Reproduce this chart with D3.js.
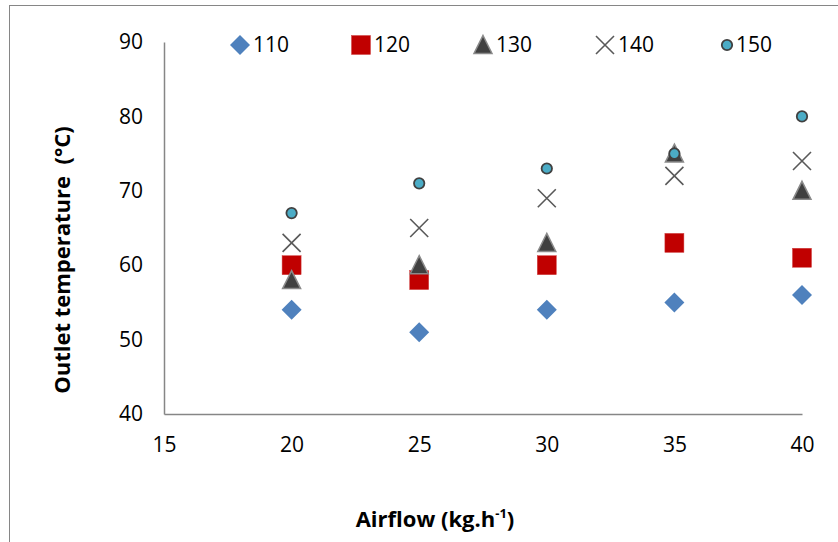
<!DOCTYPE html>
<html>
<head>
<meta charset="utf-8">
<script src="https://cdn.jsdelivr.net/npm/d3@7"></script>
<style>
  body { margin: 0; background: #fff; }
  svg { font-family: "Open Sans", "Noto Sans", sans-serif; }
</style>
</head>
<body>
<div id="chart"></div>
<script>
// airflow values (kg/h)
const airflow = [20, 25, 30, 35, 40];
// inlet temperature series
const seriesNames = ['110', '120', '130', '140', '150'];
const t110 = [54, 51, 54, 55, 56];
const t120 = [60, 58, 60, 63, 61];
const t130 = [58, 60, 63, 75, 70];
const t140 = [63, 65, 69, 72, 74];
const t150 = [67, 71, 73, 75, 80];
const xTicks = [15, 20, 25, 30, 35, 40];
const yTicks = [40, 50, 60, 70, 80, 90];

const series = [
  { name: seriesNames[0], values: t110, shape: 'diamond' },
  { name: seriesNames[1], values: t120, shape: 'square' },
  { name: seriesNames[2], values: t130, shape: 'triangle' },
  { name: seriesNames[3], values: t140, shape: 'cross' },
  { name: seriesNames[4], values: t150, shape: 'circle' },
];

const width = 838, height = 542;
const margin = { top: 42, right: 36, bottom: 128, left: 164 };

const svg = d3.select('#chart').append('svg')
  .attr('width', width)
  .attr('height', height);

// outer chart border
svg.append('rect')
  .attr('x', 9.5).attr('y', 5.5)
  .attr('width', 860).attr('height', 560)
  .attr('fill', 'none')
  .attr('stroke', '#868686')
  .attr('stroke-width', 1);

const xScale = d3.scaleLinear().domain([15, 40]).range([margin.left, width - margin.right]);
const yScale = d3.scaleLinear().domain([40, 90]).range([height - margin.bottom, margin.top]);

// axes (lines only, no tick marks)
svg.append('g')
  .attr('transform', `translate(0,${yScale(40)})`)
  .call(d3.axisBottom(xScale).tickValues(xTicks).tickSize(0).tickPadding(23))
  .call(g => g.select('.domain').attr('stroke', '#868686').attr('stroke-width', 1.5))
  .selectAll('text')
  .attr('font-size', '21px')
  .attr('fill', '#000')
  .style('font-family', '"Open Sans", sans-serif');

svg.append('g')
  .attr('transform', `translate(${xScale(15)},0)`)
  .call(d3.axisLeft(yScale).tickValues(yTicks).tickSize(0).tickPadding(21))
  .call(g => g.select('.domain').attr('stroke', '#868686').attr('stroke-width', 1.5))
  .selectAll('text')
  .attr('font-size', '21px')
  .attr('fill', '#000')
  .style('font-family', '"Open Sans", sans-serif');

// axis titles
svg.append('text')
  .attr('transform', 'translate(62,260) rotate(-90)')
  .attr('text-anchor', 'middle')
  .attr('dy', '0.35em')
  .attr('font-size', '22px')
  .attr('font-weight', 'bold')
  .text('Outlet temperature\u00a0 (°C)');

const xt = svg.append('text')
  .attr('x', 435).attr('y', 527)
  .attr('text-anchor', 'middle')
  .attr('font-size', '22px')
  .attr('font-weight', 'bold');
xt.append('tspan').text('Airflow (kg.h');
xt.append('tspan').attr('font-size', '13px').attr('dy', '-9').text('-1');
xt.append('tspan').attr('dy', '9').text(')');

function drawMarker(g, shape) {
  if (shape === 'diamond') {
    g.append('path').attr('d', 'M0,-10L10,0L0,10L-10,0Z').attr('fill', '#4F81BD');
  } else if (shape === 'square') {
    g.append('rect').attr('x', -9.5).attr('y', -9.5).attr('width', 19).attr('height', 19)
      .attr('fill', '#C00000').attr('stroke', '#d04040').attr('stroke-width', 0.5);
  } else if (shape === 'triangle') {
    g.append('path').attr('d', 'M0,-9.5L9,8.5L-9,8.5Z')
      .attr('fill', '#404040').attr('stroke', '#8a8a8a').attr('stroke-width', 1.5);
  } else if (shape === 'cross') {
    g.append('path').attr('d', 'M-9,-9L9,9M-9,9L9,-9')
      .attr('stroke', '#595959').attr('stroke-width', 1.6).attr('fill', 'none');
  } else {
    g.append('circle').attr('r', 5.2)
      .attr('fill', '#4BACC6').attr('stroke', '#404040').attr('stroke-width', 1.8);
  }
}

// points
series.forEach(s => {
  svg.append('g').selectAll('g')
    .data(s.values.map((v, i) => ({ x: airflow[i], y: v })))
    .join('g')
    .attr('transform', d => `translate(${xScale(d.x)},${yScale(d.y)})`)
    .each(function() { drawMarker(d3.select(this), s.shape); });
});

// legend
const legendX = [240, 361, 483, 605, 727];
const legend = svg.append('g');
series.forEach((s, i) => {
  const g = legend.append('g').attr('transform', `translate(${legendX[i]},45)`);
  drawMarker(g, s.shape);
  g.append('text')
    .attr('x', s.shape === 'circle' ? 9 : 13)
    .attr('dy', '0.35em')
    .attr('font-size', '21px')
    .text(s.name);
});
</script>
</body>
</html>
